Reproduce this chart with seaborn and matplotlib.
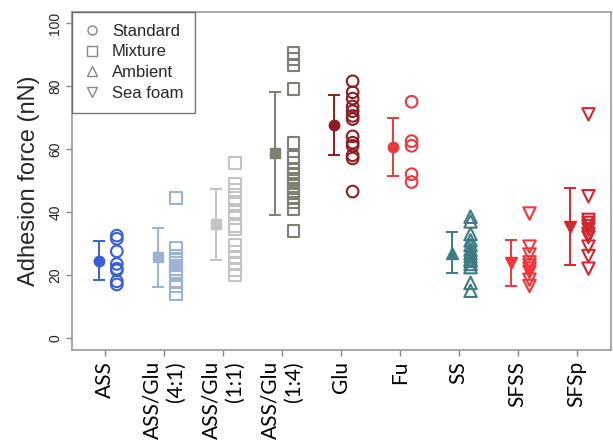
import matplotlib
matplotlib.use("Agg")
import matplotlib.pyplot as plt
from matplotlib.lines import Line2D
import numpy as np
import pandas as pd
import seaborn as sns

# groups shown on the x axis
groups = ["ASS", "ASS/Glu\n(4:1)", "ASS/Glu\n(1:1)", "ASS/Glu\n(1:4)",
          "Glu", "Fu", "SS", "SFSS", "SFSp"]
kinds = ["Standard", "Mixture", "Mixture", "Mixture",
         "Standard", "Standard", "Ambient", "Sea foam", "Sea foam"]
colors = ["#3b5fd9", "#9db3d6", "#c4c4c4", "#7d8171",
          "#8b1d25", "#e8393f", "#3f7c82", "#f2363c", "#d02a30"]

# mean +/- sd
means = [24.6, 25.6, 36.1, 58.6, 67.6, 60.7, 27.1, 23.8, 35.3]
sds = [6.1, 9.3, 11.2, 19.6, 9.4, 9.2, 6.5, 7.4, 12.2]

# individual measurements
ass = [32.5, 31.5, 27.5, 23.5, 22, 21.5, 18, 17]
ass_glu_41 = [44.5, 28.5, 26, 25, 24, 23, 22, 21, 20, 18, 16.5, 14]
ass_glu_11 = [55.5, 49, 47, 44.5, 42.5, 40, 38, 35.5, 34.5, 29.5, 27.5, 25.5,
              23.5, 21.5, 20]
ass_glu_14 = [90.5, 88.5, 86.5, 79, 62, 57.5, 55.5, 53.5, 52, 50.5, 49, 47.5,
              46, 44.5, 43, 41, 34]
glu = [81.5, 78, 76, 73.5, 72, 70.5, 69.5, 64, 62, 61, 58, 57, 46.5]
fu = [75, 62.5, 61, 52, 49.5]
ss = [38.5, 37, 33, 31, 29.5, 28, 27, 26, 25, 24.5, 23.5, 22.5, 17.5, 15]
sfss = [39.5, 29, 26.5, 24, 23, 22, 21, 18.5, 16.5]
sfsp = [71, 45, 37.5, 36.5, 35.5, 34.5, 33, 32, 29, 26, 22]

raw = [ass, ass_glu_41, ass_glu_11, ass_glu_14, glu, fu, ss, sfss, sfsp]
markers = {"Standard": "o", "Mixture": "s", "Ambient": "^", "Sea foam": "v"}

rows = []
for i, vals in enumerate(raw):
    for v in vals:
        rows.append({"group": groups[i], "pos": i + 0.2, "force": v,
                     "kind": kinds[i]})
df = pd.DataFrame(rows)

sns.set_style("ticks")
plt.rcParams["font.family"] = ["Liberation Sans", "DejaVu Sans"]

fig = plt.figure(figsize=(6.13, 4.43), dpi=100)
ax = fig.add_axes([0.1175, 0.21, 0.879, 0.763])

for i, g in enumerate(groups):
    sub = df[df["group"] == g]
    mk = markers[kinds[i]]
    s = 80 if mk in ("^", "v") else 70
    sns.scatterplot(data=sub, x="pos", y="force", ax=ax, marker=mk, s=s,
                    facecolor="none", edgecolor=colors[i], linewidth=1.5,
                    legend=False, zorder=3)
    # mean marker sits a little left of the tick
    ax.errorbar(i - 0.11, means[i], yerr=sds[i], fmt=mk, color=colors[i],
                markersize=8 if mk in ("^", "v") else 7.5, capsize=4,
                elinewidth=1.4, capthick=1.4, zorder=4)

ax.set_xlim(-0.56, 8.58)
ax.set_ylim(-3.8, 103.5)
ax.set_xticks(range(len(groups)))
ax.set_xticklabels(groups, rotation=90, fontsize=15, family=["Lato", "DejaVu Sans"],
                   va="top", ha="center", multialignment="right")
ax.set_yticks([0, 20, 40, 60, 80, 100])
ax.set_yticklabels(["0", "20", "40", "60", "80", "100"], rotation=90,
                   va="center", fontsize=10)
ax.set_xlabel("")
ax.set_ylabel("Adhesion force (nN)", fontsize=17, labelpad=6)
ax.tick_params(axis="both", colors="#888888", length=4, width=1)
ax.tick_params(axis="x", labelcolor="black", pad=4)
ax.tick_params(axis="y", labelcolor="#222222", pad=3)
for sp in ax.spines.values():
    sp.set_visible(True)
    sp.set_color("#999999")
    sp.set_linewidth(1.2)

handles = [Line2D([], [], linestyle="none", marker=markers[k], markersize=6.5,
                  markerfacecolor="none", markeredgecolor="#888888",
                  markeredgewidth=1.0, label=k)
           for k in ["Standard", "Mixture", "Ambient", "Sea foam"]]
leg = ax.legend(handles=handles, loc="upper left", borderaxespad=0,
                fancybox=False, fontsize=12, handlelength=1.0,
                handletextpad=0.7, labelspacing=0.35, borderpad=0.7)
leg.get_frame().set_edgecolor("#555555")
leg.get_frame().set_linewidth(1.0)

fig.savefig("out.png", dpi=100)
